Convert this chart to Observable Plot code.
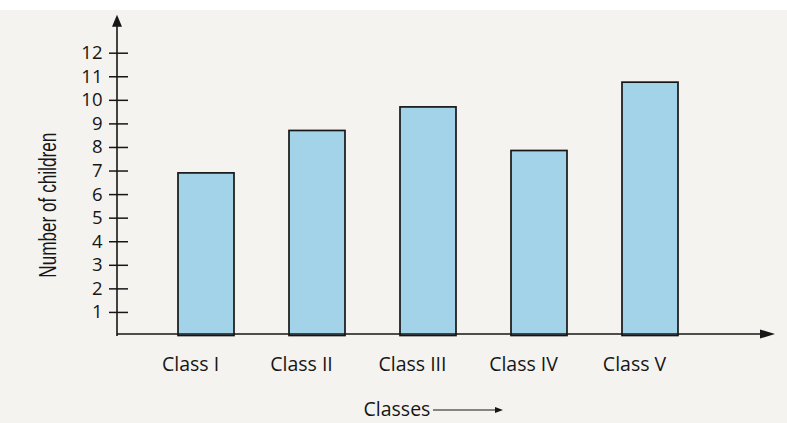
<!DOCTYPE html>
<html>
<head>
<meta charset="utf-8">
<script src="https://cdn.jsdelivr.net/npm/d3@7"></script>
<script src="https://cdn.jsdelivr.net/npm/@observablehq/plot@0.6"></script>
<style>
  html, body { margin: 0; padding: 0; }
  body { width: 787px; height: 423px; background: linear-gradient(#ffffff 0 10px, #f4f3f0 10px); overflow: hidden; }
  #chart svg { display: block; }
</style>
</head>
<body>
<div id="chart"></div>
<script>
// ---- data ----
const classes = ["Class I", "Class II", "Class III", "Class IV", "Class V"];
const children = [6.9, 8.7, 9.7, 7.85, 10.75];
const yTicks = [1, 2, 3, 4, 5, 6, 7, 8, 9, 10, 11, 12];
const xTitle = "Classes";
const yTitle = "Number of children";

const data = classes.map((c, i) => ({cls: c, n: children[i]}));
const ink = "#161616";

// axis lines with arrowheads, drawn from the plot's own scales
function axesArrows(index, scales, values, dims) {
  const x0 = dims.marginLeft;
  const y0 = scales.y(0);
  const g = d3.create("svg:g").attr("stroke", ink).attr("fill", ink);
  const xEnd = dims.width - 12;
  const yTop = scales.y(12) - 38;
  // horizontal axis
  g.append("line").attr("x1", x0).attr("x2", xEnd - 12).attr("y1", y0 - 1.5).attr("y2", y0 - 1.5).attr("stroke-width", 1.6);
  g.append("path").attr("stroke", "none")
    .attr("d", `M${xEnd},${y0 - 1.5} L${xEnd - 15},${y0 - 6} L${xEnd - 15},${y0 + 3} Z`);
  // vertical axis
  g.append("line").attr("x1", x0).attr("x2", x0).attr("y1", y0 + 0.5).attr("y2", yTop + 10).attr("stroke-width", 1.6);
  g.append("path").attr("stroke", "none")
    .attr("d", `M${x0},${yTop} L${x0 - 5},${yTop + 12} L${x0 + 5},${yTop + 12} Z`);
  // arrow after "Classes"
  const ay = y0 + 74.5;
  g.append("line").attr("x1", 433).attr("x2", 497).attr("y1", ay).attr("y2", ay).attr("stroke-width", 1.2);
  g.append("path").attr("stroke", "none")
    .attr("d", `M503,${ay} L495,${ay - 3} L495,${ay + 3} Z`);
  return g.node();
}

const plot = Plot.plot({
  width: 787,
  height: 423,
  marginLeft: 117,
  marginRight: 12,
  marginTop: 15,
  marginBottom: 87.5,
  style: {background: "transparent", fontFamily: "'Open Sans', sans-serif", color: ink, overflow: "visible"},
  x: {domain: classes, range: [117, 739], paddingInner: 0.5, paddingOuter: 0.527, axis: null},
  y: {domain: [0, 12], range: [335.5, 52.7], axis: null},
  marks: [
    Plot.barY(data, {x: "cls", y: "n", fill: "#a2d3e9", stroke: ink, strokeWidth: 1.7}),
    Plot.axisY(yTicks, {anchor: "left", tickSize: 19, dx: 11, tickFormat: () => "", stroke: ink, strokeWidth: 1.5, label: null}),
    Plot.axisY(yTicks, {anchor: "left", tickSize: 0, tickPadding: 15, fontSize: 18.5, fill: ink, label: null}),
    Plot.axisX({anchor: "bottom", tickSize: 0, tickPadding: 21, fontSize: 19.5, fill: ink, dx: -16, label: null}),
    axesArrows,
    Plot.text([xTitle], {frameAnchor: "bottom-left", dx: 246, dy: 73.5, textAnchor: "start", lineAnchor: "middle", fontSize: 19.5, fill: ink}),
    Plot.text([yTitle], {frameAnchor: "left", dx: -69, dy: 29.5, rotate: -90, textAnchor: "middle", lineAnchor: "middle", fontSize: 23, fill: ink, fontFamily: "'Liberation Sans Narrow', 'Liberation Sans', sans-serif", className: "ytitle"})
  ]
});
document.getElementById("chart").append(plot);
// condense the y title to the reference's length
d3.select(plot).selectAll("g.ytitle text, .ytitle text").attr("textLength", 145).attr("lengthAdjust", "spacingAndGlyphs");
</script>
</body>
</html>
